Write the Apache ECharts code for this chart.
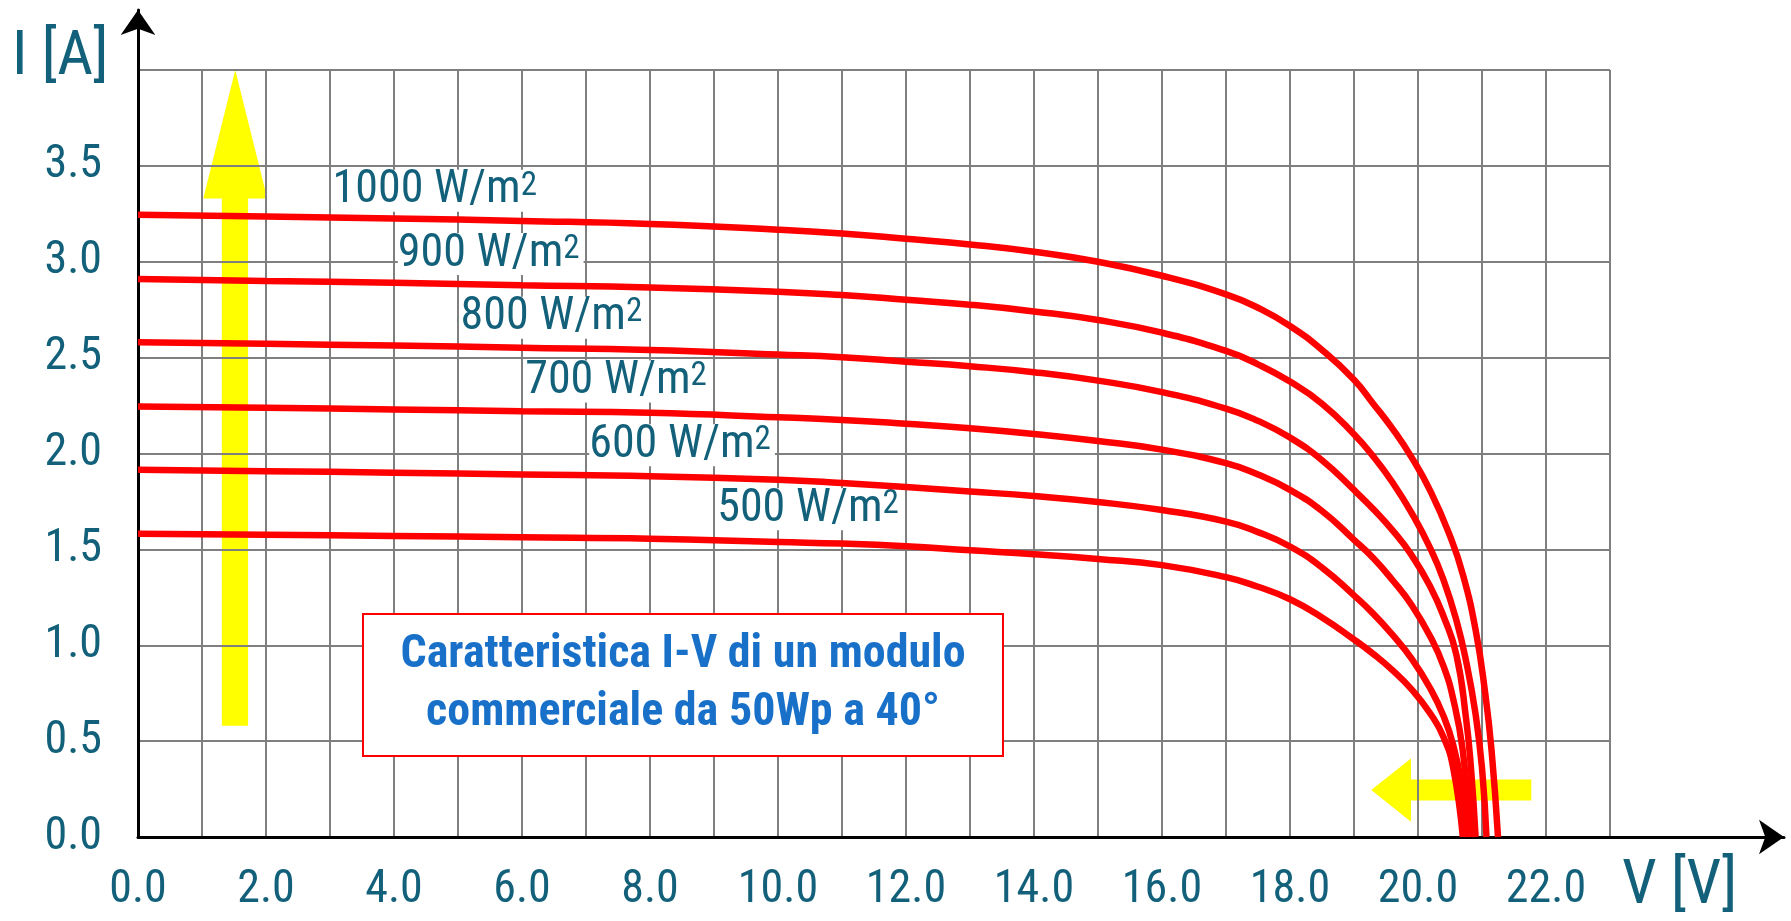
<!DOCTYPE html>
<html><head><meta charset="utf-8">
<script src="https://cdn.jsdelivr.net/npm/echarts@6/dist/echarts.min.js"></script>
<style>html,body{margin:0;padding:0;background:#fff}#c{width:1791px;height:921px}</style>
</head><body><div id="c"></div>
<script>
// ---- data ----
const irradiances = ['1000', '900', '800', '700', '600', '500'];

const v1000 = [0,2,4,6,8,10,11,12,13,14,15,16,17,17.5,18,18.5,19,19.3,19.6,19.9,20.2,20.5,20.7,20.9,21.05,21.15,21.25];
const i1000 = [3.245,3.236,3.226,3.213,3.197,3.167,3.147,3.12,3.09,3.052,3.0,2.927,2.83,2.76,2.665,2.54,2.385,2.26,2.13,1.98,1.80,1.57,1.37,1.08,0.75,0.45,0];

const v900 = [0,2,4,6,8,10,11,12,13,14,15,16,17,17.5,18,18.5,19,19.3,19.6,19.9,20.2,20.4,20.6,20.75,20.9,21.0,21.07];
const i900 = [2.91,2.90,2.89,2.878,2.866,2.844,2.826,2.802,2.776,2.741,2.696,2.63,2.535,2.465,2.375,2.26,2.10,1.985,1.85,1.69,1.50,1.34,1.13,0.92,0.64,0.36,0];

const v800 = [0,2,4,6,8,10,11,12,13,14,15,16,17,17.5,18,18.5,19,19.3,19.6,19.9,20.2,20.4,20.6,20.75,20.83,20.9];
const i800 = [2.58,2.572,2.563,2.552,2.54,2.516,2.502,2.479,2.455,2.424,2.38,2.32,2.234,2.17,2.083,1.965,1.81,1.71,1.60,1.47,1.30,1.15,0.95,0.62,0.35,0];

const v700 = [0,2,4,6,8,10,11,12,13,14,15,16,17,17.5,18,18.5,19,19.3,19.6,19.9,20.2,20.4,20.55,20.7,20.83];
const i700 = [2.245,2.238,2.23,2.22,2.212,2.189,2.175,2.155,2.132,2.102,2.065,2.02,1.95,1.89,1.81,1.70,1.55,1.455,1.34,1.21,1.04,0.89,0.72,0.45,0];

const v600 = [0,2,4,6,8,10,11,12,13,14,15,16,17,17.5,18,18.5,19,19.3,19.6,19.9,20.2,20.4,20.55,20.67,20.77];
const i600 = [1.915,1.908,1.9,1.891,1.882,1.863,1.846,1.825,1.802,1.778,1.747,1.705,1.645,1.59,1.515,1.405,1.26,1.165,1.055,0.93,0.77,0.63,0.48,0.29,0];

const v500 = [0,2,4,6,8,10,11,12,13,14,15,16,17,17.5,18,18.5,19,19.3,19.6,19.9,20.2,20.4,20.55,20.70];
const i500 = [1.582,1.576,1.57,1.563,1.556,1.538,1.53,1.516,1.495,1.475,1.45,1.418,1.355,1.305,1.24,1.145,1.03,0.955,0.87,0.77,0.64,0.52,0.36,0];

// curve label anchors (V, I) in data units
const labelV = [3.04, 4.06, 5.04, 6.05, 7.05, 9.05];
const labelI = [3.37, 3.04, 2.708, 2.375, 2.043, 1.709];

// yellow arrows, vertices in data units
const arrowUp = [[1.31,0.58],[1.72,0.58],[1.72,3.33],[2.02,3.33],[1.52,4.0],[1.02,3.33],[1.31,3.33]];
const arrowLeft = [[21.77,0.19],[21.77,0.30],[19.89,0.30],[19.89,0.41],[19.27,0.245],[19.89,0.08],[19.89,0.19]];

const boxText = 'Caratteristica I-V di un modulo\ncommerciale da 50Wp a 40°';
const xName = 'V [V]';
const yName = 'I [A]';

// ---- font detection: prefer an installed narrow face ----
const cv = document.createElement('canvas').getContext('2d');
function wOf(f) { cv.font = f; return cv.measureText('0123456789 WmV').width; }
const baseW = wOf("100px 'Liberation Sans'");
const narrowCandidates = ['Liberation Sans Narrow', 'Arial Narrow', 'Roboto Condensed', 'Open Sans Condensed',
  'Noto Sans Condensed', 'Nimbus Sans Narrow', 'Ubuntu Condensed', 'DejaVu Sans Condensed'];
let NARROW = null;
for (const c of narrowCandidates) {
  if (wOf("100px '" + c + "', 'Liberation Sans'") < baseW * 0.93) { NARROW = c; break; }
}
const FONT = NARROW ? ("'" + NARROW + "','Liberation Sans',sans-serif") : "'Liberation Sans',Arial,sans-serif";
const SX = NARROW ? 1 : 0.82;
const TICK = NARROW ? 46 : 39;

// ---- chart ----
const TEAL = '#13607a';
const zip = (a, b) => a.map((v, k) => [v, b[k]]);
const curves = [[v1000,i1000],[v900,i900],[v800,i800],[v700,i700],[v600,i600],[v500,i500]];

const chart = echarts.init(document.getElementById('c'), null, {renderer: 'canvas'});

const lineSeries = curves.map((c, k) => ({
  name: irradiances[k] + ' W/m2',
  type: 'line', xAxisIndex: 0, yAxisIndex: 0,
  data: zip(c[0], c[1]),
  symbol: 'none', smooth: 0.5,
  lineStyle: {color: '#ff0000', width: 6.5},
  z: 5, silent: true
}));

const arrows = [arrowUp, arrowLeft];

const option = {
  animation: false,
  backgroundColor: '#ffffff',
  grid: [
    {left: 138, right: 181, top: 70, bottom: 84},
    {left: 138, right: 7, top: 10, bottom: 84}
  ],
  xAxis: [
    {gridIndex: 0, type: 'value', min: 0, max: 23, interval: 1,
     axisLine: {show: false}, axisTick: {show: false},
     splitLine: {show: true, lineStyle: {color: '#7f7f7f', width: 2}},
     axisLabel: {margin: 30, fontSize: TICK, fontFamily: FONT, color: TEAL,
       formatter: v => (Math.round(v) % 2 === 0 && v < 23) ? v.toFixed(1) : ''}},
    {gridIndex: 1, type: 'value', min: 0, max: 1,
     axisLine: {show: true, lineStyle: {color: '#000', width: 3}, symbol: ['none', 'arrow'], symbolSize: [26, 25]},
     axisTick: {show: false}, axisLabel: {show: false}, splitLine: {show: false}}
  ],
  yAxis: [
    {gridIndex: 0, type: 'value', min: 0, max: 4, interval: 0.5,
     axisLine: {show: false}, axisTick: {show: false},
     splitLine: {show: true, lineStyle: {color: '#7f7f7f', width: 2}},
     axisLabel: {margin: 36, fontSize: TICK, fontFamily: FONT, color: TEAL,
       formatter: v => v < 4 ? v.toFixed(1) : ''}},
    {gridIndex: 1, type: 'value', min: 0, max: 1,
     axisLine: {show: true, lineStyle: {color: '#000', width: 3}, symbol: ['none', 'arrow'], symbolSize: [26, 25]},
     axisTick: {show: false}, axisLabel: {show: false}, splitLine: {show: false}}
  ],
  series: [
    {
      type: 'custom', xAxisIndex: 0, yAxisIndex: 0, z: -1, silent: true,
      data: arrows.map(a => a[4]),
      renderItem: (params, api) => ({
        type: 'polygon',
        shape: {points: arrows[params.dataIndex].map(p => api.coord(p))},
        style: {fill: '#ffff00'}
      })
    },
    ...lineSeries,
    {
      type: 'custom', xAxisIndex: 0, yAxisIndex: 0, z: 3, silent: true,
      data: zip(labelV, labelI),
      renderItem: (params, api) => {
        const p = api.coord([api.value(0), api.value(1)]);
        return {
          type: 'text', x: p[0], y: p[1], scaleX: SX,
          style: {
            text: '{a|' + irradiances[params.dataIndex] + ' W/m}{s|2}',
            align: 'left', verticalAlign: 'middle',
            backgroundColor: '#ffffff', padding: [0, 4, 0, 0],
            rich: {
              a: {fontSize: 46, lineHeight: 42, fontFamily: FONT, fill: TEAL},
              s: {fontSize: 33, lineHeight: 30, fontFamily: FONT, fill: TEAL, verticalAlign: 'top'}
            }
          }
        };
      }
    }
  ],
  graphic: [
    {type: 'rect', z: 50, shape: {x: 363, y: 614, width: 640, height: 142},
     style: {fill: '#ffffff', stroke: '#ff0000', lineWidth: 2}},
    {type: 'text', z: 51, x: 683, y: 684, scaleX: SX,
     style: {text: boxText, fontSize: 46, fontWeight: 'bold', fontFamily: FONT, fill: '#1870c8',
             align: 'center', verticalAlign: 'middle', lineHeight: 58}},
    {type: 'text', z: 51, x: 12, y: 58, scaleX: SX,
     style: {text: yName, fontSize: 62, fontFamily: FONT, fill: TEAL, align: 'left', verticalAlign: 'middle'}},
    {type: 'text', z: 51, x: 1622, y: 887, scaleX: SX,
     style: {text: xName, fontSize: 62, fontFamily: FONT, fill: TEAL, align: 'left', verticalAlign: 'middle'}}
  ]
};
chart.setOption(option);
</script>
</body></html>
